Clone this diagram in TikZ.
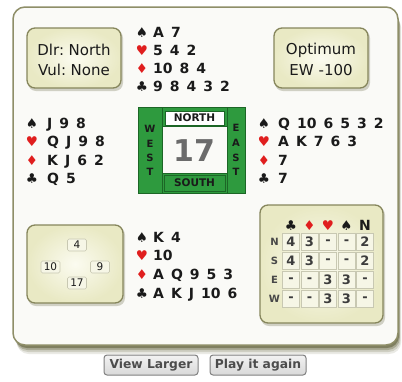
\documentclass[tikz,border=0pt]{standalone}
\usepackage{fontspec}
\setmainfont{DejaVu Sans}
\definecolor{panelfill}{HTML}{FAFAF7}
\definecolor{panelline}{HTML}{8E8E68}
\definecolor{shadowc}{HTML}{55552C}
\definecolor{boxline}{HTML}{86865C}
\definecolor{boxin}{HTML}{FBFBF0}
\definecolor{boxout}{HTML}{E9E9C4}
\definecolor{suitred}{HTML}{E01E1E}
\definecolor{felt}{HTML}{2E9A3E}
\definecolor{feltdark}{HTML}{1C6626}
\definecolor{ink}{HTML}{1A1A1A}
\definecolor{cellfill}{HTML}{F6F6E6}
\definecolor{cellline}{HTML}{C8C8B2}
\newcommand\handfont{\fontsize{14}{16}\bfseries\selectfont\spaceskip=7pt\relax}
\newcommand\suitfont{\fontsize{13.5}{15}\selectfont}
\newcommand\infofont{\fontsize{15}{17}\selectfont\spaceskip=3pt\relax}
\begin{document}
\begin{tikzpicture}[x=1pt,y=-1pt,
  hand/.style={anchor=base west, inner sep=0pt, font=\handfont, text=ink},
  suit/.style={anchor=base, inner sep=0pt, font=\suitfont},
  infobox/.style={draw=boxline, line width=1.3pt, rounded corners=8pt, inner color=boxin, outer color=boxout},
  infotext/.style={inner sep=0pt, font=\infofont, text=ink},
  feltlabel/.style={inner sep=0pt, font=\fontsize{10.5}{12}\bfseries\selectfont, text=ink},
  sidelabel/.style={inner sep=0pt, font=\fontsize{10}{12}\bfseries\selectfont, text=ink},
  tricks/.style={draw=cellline, fill=cellfill, line width=0.6pt, rounded corners=1.5pt, minimum width=19pt, minimum height=12pt, inner sep=0pt, font=\fontsize{10.5}{12}\selectfont, text=ink},
  cell/.style={draw=cellline, fill=cellfill, line width=0.6pt, minimum width=17pt, minimum height=17pt, inner sep=0pt, font=\fontsize{13}{14}\bfseries\selectfont, text=ink!85},
  rowlab/.style={inner sep=0pt, font=\fontsize{10}{12}\bfseries\selectfont, text=ink!80},
  btn/.style={draw=black!50, line width=1pt, rounded corners=3pt, top color=black!5, bottom color=black!15, minimum width=94pt, minimum height=20pt, inner sep=0pt, font=\fontsize{12.3}{14}\bfseries\selectfont, text=black!70}]
\useasboundingbox (0,0) rectangle (402,381);
\fill[white] (0,0) rectangle (402,381);
% panel shadow
\foreach \d/\o in {9/0.12,7/0.18,5/0.3,3/0.5}
  \fill[shadowc,opacity=\o,rounded corners=12pt] (14+0.3*\d,7+\d) rectangle (398+0.35*\d,345+\d);
\path[fill=panelfill,draw=panelline,line width=1.5pt,rounded corners=12pt] (13,7) rectangle (398,345);
% info boxes
\foreach \a/\b/\c/\e in {27/28/121/88, 274/28/368/88, 27/225/123/303, 260/205/383/323}{
  \fill[shadowc,opacity=0.25,rounded corners=8pt] (\a+1,\b+2) rectangle (\c+2,\e+3);
  \path[infobox] (\a,\b) rectangle (\c,\e);
}
\node[infotext] (dlr) at (74,50) {Dlr: North};
\node[infotext] (vul) at (74,70) {Vul: None};
\node[infotext] (opt) at (321,50) {Optimum};
\node[infotext] (ew) at (321,70) {EW\hspace{5pt}-100};
% hands
\foreach \s/\col/\yy [count=\i] in {♠/ink/0, ♥/suitred/1, ♦/suitred/2, ♣/ink/3}{
  \node[suit,text=\col] (ns\i) at (142,{37+18*\yy}) {\s};
  \node[suit,text=\col] (ws\i) at (32,{128+18.5*\yy}) {\s};
  \node[suit,text=\col] (es\i) at (264,{128+18.5*\yy}) {\s};
  \node[suit,text=\col] (ss\i) at (142,{242+18.8*\yy}) {\s};
}
\foreach \c [count=\i] in {A 7, 5 4 2, 10 8 4, 9 8 4 3 2}
  \node[hand] (nh\i) at (153,{19+18*\i}) {\c};
\foreach \c [count=\i] in {J 9 8, Q J 9 8, K J 6 2, Q 5}
  \node[hand] (wh\i) at (47,{109.5+18.5*\i}) {\c};
\foreach \c [count=\i] in {Q 10 6 5 3 2, A K 7 6 3, 7, 7}
  \node[hand] (eh\i) at (278,{109.5+18.5*\i}) {\c};
\foreach \c [count=\i] in {K 4, 10, A Q 9 5 3, A K J 10 6}
  \node[hand] (sh\i) at (153,{223.2+18.8*\i}) {\c};
% centre table
\fill[felt] (138,107) rectangle (245,193);
\draw[feltdark,line width=1pt] (138,107) rectangle (245,193);
\draw[feltdark,line width=1pt] (162,107) -- (162,193) (227,107) -- (227,193);
\fill[panelfill] (162,126) rectangle (227,173);
\draw[feltdark,line width=0.8pt] (162,126) rectangle (227,173);
\draw[feltdark,line width=0.6pt] (164,175) rectangle (225,191);
\path[fill=white,draw=feltdark,line width=0.8pt] (165,111) rectangle (224,125);
\node[feltlabel] (north) at (194.5,118) {NORTH};
\node[feltlabel] (south) at (194.5,183) {SOUTH};
\node[inner sep=0pt,font=\fontsize{30}{32}\bfseries\selectfont,text=black!58] (board) at (194,151) {17};
\foreach \l/\yy [count=\i] in {W/129,E/144,S/158,T/172}
  \node[sidelabel] (west\i) at (150,\yy) {\l};
\foreach \l/\yy [count=\i] in {E/128,A/143,S/158,T/172}
  \node[sidelabel] (east\i) at (236,\yy) {\l};
% hcp box
\node[tricks] (hn) at (77,245) {4};
\node[tricks] (hw) at (50.5,267) {10};
\node[tricks] (he) at (100,267) {9};
\node[tricks] (hs) at (77,283) {17};
% makeable contracts
\foreach \s/\col [count=\j] in {♣/ink, ♦/suitred, ♥/suitred, ♠/ink}
  \node[suit,text=\col] (th\j) at ({272.5+18.5*\j},230) {\s};
\node[inner sep=0pt,font=\fontsize{14}{16}\bfseries\selectfont,text=ink] (th5) at (365,225) {N};
\foreach \r/\vals [count=\i] in {N/{4,3,-,-,2}, S/{4,3,-,-,2}, E/{-,-,3,3,-}, W/{-,-,3,3,-}}{
  \node[rowlab] (rl\i) at (274.5,{223+19*\i}) {\r};
  \foreach \v [count=\j] in \vals
    \node[cell] (c\i\j) at ({272.5+18.5*\j},{223+19*\i}) {\v};
}
% buttons
\node[btn] (view) at (151,365) {View Larger};
\node[btn,minimum width=96pt] (play) at (258,365) {Play it again};
\end{tikzpicture}
\end{document}
